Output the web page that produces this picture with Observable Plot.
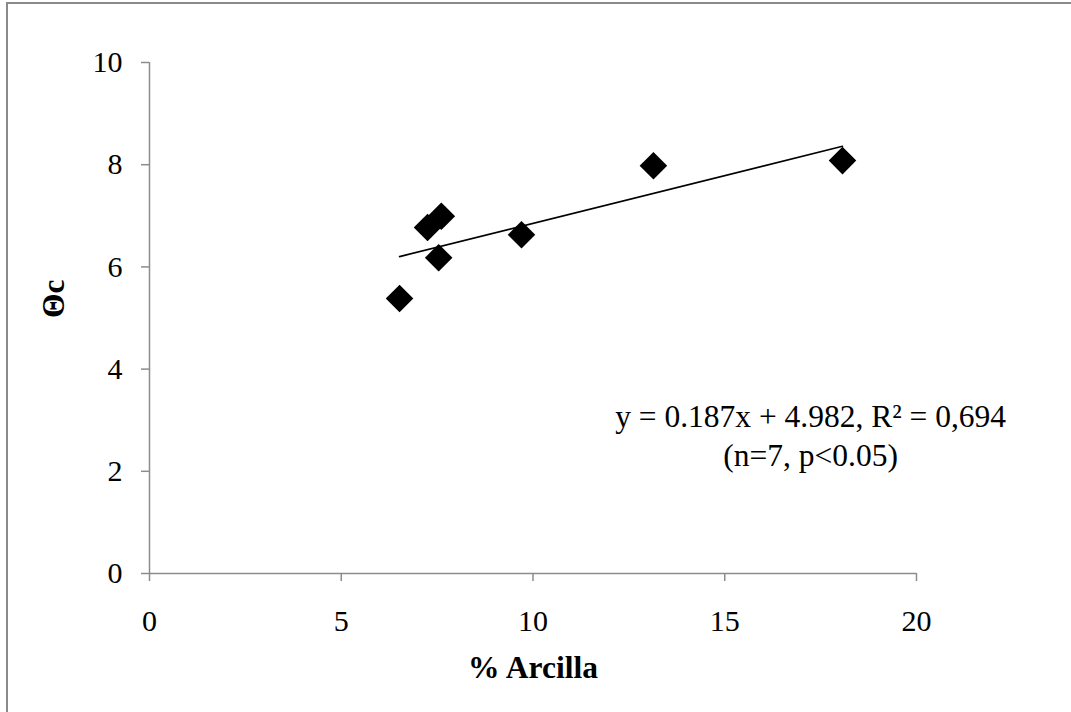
<!DOCTYPE html>
<html>
<head>
<meta charset="utf-8">
<script src="https://cdn.jsdelivr.net/npm/d3@7"></script>
<script src="https://cdn.jsdelivr.net/npm/@observablehq/plot@0.6"></script>
<style>
  html, body { margin: 0; padding: 0; background: #fff; }
  #wrap { position: relative; width: 1071px; height: 712px; overflow: hidden; }
  #frame { position: absolute; left: 6px; top: 2px; width: 2000px; height: 2000px;
           border-left: 2px solid #8a8a8a; border-top: 2px solid #8a8a8a; }
  #chart { position: absolute; left: 0; top: 0; }
</style>
</head>
<body>
<div id="wrap"><div id="frame"></div><div id="chart"></div></div>
<script>
// Data
const arcilla = [6.52, 7.25, 7.61, 7.54, 9.70, 13.14, 18.07];
const thetaC  = [5.38, 6.77, 6.99, 6.18, 6.63, 7.98, 8.08];
const slope = 0.187;
const intercept = 4.982;
const xTicks = [0, 5, 10, 15, 20];
const yTicks = [0, 2, 4, 6, 8, 10];
const xLabel = "% Arcilla";
const yLabel = "Θc";
const annotationText = ["y = 0.187x + 4.982, R² = 0,694", "(n=7, p<0.05)"];
const annotationX = 17.24;
const annotationY = [2.86, 2.11];

const points = arcilla.map((x, i) => ({x, y: thetaC[i]}));
const xMin = d3.min(arcilla), xMax = d3.max(arcilla);
const fit = [xMin, xMax].map(x => ({x, y: slope * x + intercept}));
const notes = annotationText.map((t, i) => ({t, x: annotationX, y: annotationY[i]}));

const axisColor = "#8c8c8c";
const font = "Liberation Serif, Times New Roman, serif";

const chart = Plot.plot({
  width: 1071,
  height: 712,
  marginLeft: 149,
  marginRight: 155,
  marginTop: 62,
  marginBottom: 139,
  style: {fontFamily: font, fontSize: "30px", color: "#000", background: "transparent"},
  x: {domain: [0, 20]},
  y: {domain: [0, 10]},
  marks: [
    Plot.axisX({ticks: xTicks, tickSize: 8, tickPadding: 28, stroke: axisColor, strokeWidth: 1.5, strokeOpacity: 1, fontSize: 30, label: null, tickFormat: d => d}),
    Plot.axisY({ticks: yTicks, tickSize: 8, tickPadding: 19, stroke: axisColor, strokeWidth: 1.5, strokeOpacity: 1, fontSize: 30, label: null, tickFormat: d => d}),
    Plot.ruleX([0], {stroke: axisColor, strokeWidth: 1.5}),
    Plot.ruleY([0], {stroke: axisColor, strokeWidth: 1.5}),
    Plot.line(fit, {x: "x", y: "y", stroke: "#000", strokeWidth: 1.6}),
    Plot.dot(points, {x: "x", y: "y", symbol: "diamond2", r: 12.4, fill: "#000", stroke: "none"}),
    Plot.text(notes, {x: "x", y: "y", text: "t", fontSize: 31.5, textAnchor: "middle", lineAnchor: "bottom", fill: "#000"}),
    Plot.text([xLabel], {frameAnchor: "bottom", dy: 104, fontSize: 31.5, fontWeight: "bold", fill: "#000"}),
    Plot.text([yLabel], {frameAnchor: "left", dx: -96, rotate: -90, fontSize: 31.5, fontWeight: "bold", fill: "#000"})
  ]
});
document.getElementById("chart").appendChild(chart);
</script>
</body>
</html>
